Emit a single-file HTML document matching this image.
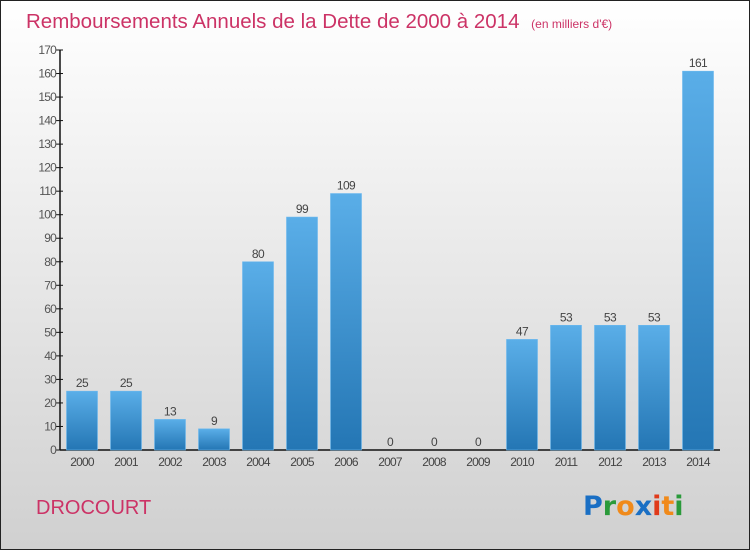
<!DOCTYPE html>
<html><head><meta charset="utf-8"><style>
html,body{margin:0;padding:0}
body{width:750px;height:550px;overflow:hidden;font-family:"Liberation Sans",sans-serif}
#c{position:absolute;left:0;top:0;width:748px;height:548px;border:1px solid #222;background:linear-gradient(#ffffff,#d0d0d0)}
</style></head><body>
<div id="c">
<svg id="s" width="750" height="550" style="position:absolute;left:-1px;top:-1px">
<defs><linearGradient id="g" x1="0" y1="0" x2="0" y2="1"><stop offset="0" stop-color="#5aaee8"/><stop offset="1" stop-color="#2476b4"/></linearGradient></defs>
<text x="26" y="28" font-size="20.5" fill="#cc3366">Remboursements Annuels de la Dette de 2000 à 2014 <tspan font-size="12" dx="6">(en milliers d'€)</tspan></text>
<text x="36" y="514" font-size="20" fill="#cc3366">DROCOURT</text>
<g font-size="27" font-weight="bold" font-family="'DejaVu Sans',sans-serif">
<text x="583" y="515" fill="#1a6fc4">P<tspan fill="#2a9a3a">r</tspan><tspan fill="#f08a1a">o</tspan><tspan fill="#1a6fc4">x</tspan><tspan fill="#e03a1a">i</tspan><tspan fill="#f08a1a">t</tspan><tspan fill="#2a9a3a">i</tspan></text>
</g>
<g id="plot"></g>
</svg>
</div>
<script>
const categories=["2000","2001","2002","2003","2004","2005","2006","2007","2008","2009","2010","2011","2012","2013","2014"];
const values=[25,25,13,9,80,99,109,0,0,0,47,53,53,53,161];
const yTicks=[0,10,20,30,40,50,60,70,80,90,100,110,120,130,140,150,160,170];
const NS="http://www.w3.org/2000/svg";
const g=document.getElementById('plot');
const x0=60,band=44,y0=450,ymax=170,yTop=50;
const y=v=>y0-(v/ymax)*(y0-yTop);
const xc=i=>x0+band*i+band/2;
function mk(t,a){const e=document.createElementNS(NS,t);for(const k in a)e.setAttribute(k,a[k]);g.appendChild(e);return e;}
let ax=mk('line',{x1:x0,y1:yTop,x2:x0,y2:y0,stroke:'#111','stroke-width':1.5});


let bx=mk('line',{x1:x0,y1:y0,x2:x0+band*categories.length,y2:y0,stroke:'#111','stroke-width':1.5});


yTicks.forEach(t=>{
 let l=mk('line',{x1:x0-4,y1:y(t),x2:x0+3,y2:y(t),stroke:'#111'});
 
 
 let tx=mk('text',{x:x0-4,y:y(t)+4,'text-anchor':'end','font-size':12,fill:'#555','letter-spacing':'-0.8'});
 tx.textContent=t;
 
 
});
categories.forEach((c,i)=>{
 const v=values[i],w=31;
 let r=mk('rect',{x:xc(i)-w/2,y:y(v),width:w,height:y0-y(v),fill:'url(#g)',stroke:'#6bb8ee','stroke-width':0.6});
 
 
 let vl=mk('text',{x:xc(i),y:y(v)-4,'text-anchor':'middle','font-size':12,fill:'#444','letter-spacing':'-0.6'});
 vl.textContent=v;
 
 
 let xl=mk('text',{x:xc(i),y:y0+16,'text-anchor':'middle','font-size':12,fill:'#444','letter-spacing':'-0.8'});
 xl.textContent=c;
 
 
});
</script>
</body></html>
